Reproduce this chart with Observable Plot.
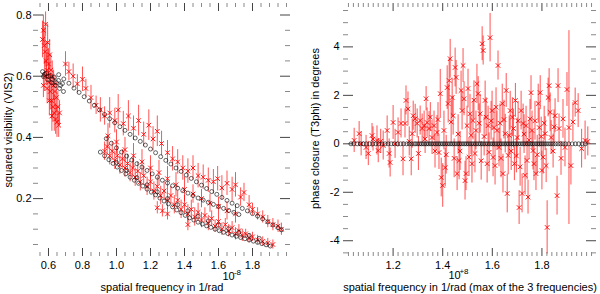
<!DOCTYPE html>
<html><head><meta charset="utf-8">
<script src="https://cdn.jsdelivr.net/npm/d3@7"></script>
<script src="https://cdn.jsdelivr.net/npm/@observablehq/plot@0.6"></script>
<style>
body{margin:0;background:#fff;}
#wrap{display:flex;width:600px;height:294px;}
#wrap svg{display:block;}
</style></head><body><div id="wrap"></div>
<script>
// ---------- LEFT PANEL: squared visibility ----------
const visFreq = [
  0.565,0.570,0.575,0.580,0.583,0.587,0.590,0.595,0.600,0.603,
  0.607,0.610,0.614,0.618,0.622,0.626,0.630,0.634,0.638,0.642,
  0.646,0.650,0.655,0.660,0.665,0.570,0.578,0.592,0.605,0.620,
  0.700,0.720,0.745,0.770,0.800,0.820,0.850,0.880,0.905,0.930,
  0.960,0.990,1.010,1.040,1.070,1.100,1.130,1.160,1.190,1.215,
  1.240,1.265,1.300,1.330,1.360,1.390,1.420,1.450,1.480,1.510,
  1.540,1.570,1.595,1.620,1.650,1.680,1.700,1.730,1.750,1.780,
  1.800,1.830,1.860,1.890,1.920,1.950,1.970,
  0.930,0.945,0.960,0.975,0.990,1.005,1.020,1.035,1.050,1.065,
  1.080,1.095,1.110,1.125,1.140,1.160,1.180,1.200,1.220,1.240,
  1.260,1.280,1.300,1.320,1.340,1.360,1.380,1.400,1.420,1.440,
  1.460,1.480,1.500,1.520,1.540,1.560,1.580,1.600,1.620,1.640,
  1.660,1.680,1.700,1.720,1.740,1.760,1.780,1.800,1.830,1.860,
  1.890,1.920,
  0.950,1.000,1.050,1.100,1.150,1.200,1.250,1.300,1.350,1.400,
  1.450,1.500,1.550,1.600,1.650,1.700,
  1.240,1.270,1.300,1.420
];
const visVal = [
  0.72,0.75,0.70,0.68,0.77,0.65,0.62,0.71,0.64,0.58,
  0.67,0.55,0.62,0.52,0.60,0.50,0.57,0.48,0.55,0.46,
  0.53,0.45,0.50,0.44,0.48,0.57,0.60,0.56,0.52,0.47,
  0.640,0.615,0.600,0.575,0.590,0.560,0.530,0.505,0.490,0.470,
  0.480,0.455,0.490,0.445,0.470,0.430,0.455,0.410,0.440,0.395,
  0.420,0.380,0.350,0.330,0.320,0.300,0.290,0.300,0.275,0.270,
  0.260,0.255,0.265,0.235,0.250,0.230,0.245,0.205,0.220,0.180,
  0.165,0.150,0.140,0.125,0.115,0.110,0.100,
  0.355,0.370,0.340,0.355,0.325,0.340,0.310,0.330,0.300,0.315,
  0.285,0.300,0.270,0.290,0.255,0.275,0.240,0.255,0.225,0.240,
  0.210,0.225,0.195,0.210,0.180,0.195,0.165,0.180,0.150,0.165,
  0.140,0.155,0.130,0.145,0.120,0.135,0.110,0.125,0.100,0.115,
  0.095,0.105,0.085,0.095,0.080,0.085,0.070,0.075,0.065,0.060,
  0.055,0.050,
  0.405,0.385,0.360,0.340,0.320,0.300,0.285,0.265,0.245,0.230,
  0.215,0.200,0.185,0.175,0.160,0.150,
  0.170,0.160,0.150,0.115
];
const visErr = [
  0.06,0.05,0.06,0.05,0.04,0.06,0.05,0.06,0.05,0.06,
  0.05,0.06,0.05,0.06,0.05,0.05,0.05,0.06,0.05,0.05,
  0.05,0.05,0.05,0.04,0.04,0.04,0.05,0.05,0.05,0.05,
  0.04,0.03,0.04,0.03,0.04,0.03,0.04,0.03,0.04,0.03,
  0.05,0.04,0.05,0.04,0.05,0.04,0.05,0.04,0.05,0.04,
  0.05,0.04,0.04,0.04,0.04,0.04,0.04,0.04,0.04,0.04,
  0.04,0.04,0.04,0.04,0.04,0.04,0.04,0.03,0.03,0.03,
  0.02,0.02,0.02,0.02,0.02,0.02,0.02,
  0.03,0.03,0.03,0.03,0.03,0.03,0.03,0.03,0.03,0.03,
  0.03,0.03,0.03,0.03,0.03,0.03,0.03,0.03,0.03,0.03,
  0.03,0.03,0.03,0.03,0.03,0.03,0.03,0.03,0.03,0.03,
  0.03,0.03,0.025,0.025,0.025,0.025,0.02,0.02,0.02,0.02,
  0.02,0.02,0.02,0.02,0.02,0.015,0.015,0.015,0.015,0.015,
  0.015,0.015,
  0.04,0.04,0.04,0.04,0.04,0.04,0.04,0.04,0.04,0.04,
  0.03,0.03,0.03,0.03,0.03,0.03,
  0.02,0.02,0.02,0.02
];
const visModelFreq = [
  0.565,0.588,0.612,0.635,0.659,0.682,0.571,0.594,0.618,0.641,0.665,0.688,0.576,0.600,0.624,0.647,0.671,
  0.660,0.690,0.720,0.750,0.780,0.810,0.840,0.870,0.900,0.930,0.960,0.990,1.020,1.050,1.080,1.110,1.140,
  1.170,1.200,1.230,1.260,1.290,1.320,1.350,1.380,1.410,1.440,1.470,1.500,1.530,1.560,1.590,1.620,1.650,
  1.680,1.710,1.740,1.770,1.800,1.830,1.860,1.890,1.920,1.950,1.970,
  0.940,0.970,1.000,1.030,1.060,1.090,1.120,1.150,1.180,1.210,1.240,1.270,1.300,1.330,1.360,1.390,1.420,
  1.450,1.480,1.510,1.540,1.570,1.600,1.630,1.660,1.690,1.720,
  0.905,0.930,0.955,0.980,1.005,1.030,1.055,1.080,1.105,1.130,1.155,1.180,1.205,1.230,1.255,1.280,1.305,
  1.330,1.355,1.380,1.405,1.430,1.455,1.480,1.505,1.530,1.555,1.580,1.605,1.630,1.655,1.680,1.705,1.730,
  1.755,1.780,1.805,1.830,1.855,1.880,1.905,
  1.000,1.060,1.120,1.180,1.240,1.300,1.360,1.420,1.480,1.540,1.600,1.660,1.720,1.780,1.840
];
const visModelVal = [
  0.615,0.609,0.602,0.596,0.586,0.576,0.599,0.589,0.579,0.570,0.560,0.550,0.606,0.599,0.589,0.579,0.570,
  0.605,0.591,0.577,0.561,0.547,0.533,0.519,0.505,0.490,0.475,0.461,0.448,0.435,0.423,0.410,0.398,0.387,
  0.375,0.362,0.350,0.337,0.325,0.313,0.300,0.289,0.277,0.266,0.255,0.244,0.233,0.223,0.214,0.204,0.194,
  0.185,0.177,0.168,0.160,0.151,0.143,0.134,0.124,0.114,0.105,0.098,
  0.396,0.381,0.366,0.352,0.339,0.326,0.314,0.303,0.292,0.281,0.270,0.260,0.251,0.242,0.234,0.226,0.218,
  0.210,0.202,0.195,0.188,0.181,0.174,0.168,0.161,0.155,0.148,
  0.352,0.340,0.327,0.315,0.303,0.292,0.281,0.270,0.260,0.250,0.241,0.231,0.221,0.212,0.202,0.192,0.183,
  0.173,0.163,0.154,0.145,0.137,0.130,0.123,0.117,0.111,0.106,0.100,0.095,0.090,0.086,0.081,0.077,0.073,
  0.069,0.065,0.061,0.057,0.053,0.049,0.045,
  0.318,0.292,0.268,0.245,0.222,0.200,0.180,0.160,0.142,0.127,0.113,0.101,0.090,0.080,0.070
];
const visXLabels = [0.6,0.8,1.0,1.2,1.4,1.6,1.8];
const visXMinor = [0.55,0.65,0.7,0.75,0.85,0.9,0.95,1.05,1.1,1.15,1.25,1.3,1.35,1.45,1.5,1.55,1.65,1.7,1.75,1.85,1.9,1.95,2.0];
const visYLabels = [0.2,0.4,0.6,0.8];
const visYMinor = [0.05,0.1,0.15,0.25,0.3,0.35,0.45,0.5,0.55,0.65,0.7,0.75];

// ---------- RIGHT PANEL: closure phase ----------
const t3Freq = [
  1.043,1.063,1.071,1.091,1.115,1.119,1.135,1.140,1.160,1.176,
  1.184,1.188,1.200,1.208,1.220,1.232,1.240,1.248,1.252,1.260,
  1.273,1.277,1.281,1.289,1.297,1.309,1.317,1.325,1.333,1.337,
  1.345,1.357,1.365,1.377,1.385,1.390,1.394,1.400,1.410,1.418,
  1.422,1.426,1.430,1.438,1.442,1.450,1.454,1.458,1.466,1.474,
  1.478,1.482,1.486,1.490,1.494,1.498,1.502,1.510,1.518,1.522,
  1.534,1.538,1.543,1.551,1.559,1.563,1.571,1.579,1.583,1.591,
  1.599,1.603,1.607,1.615,1.619,1.623,1.627,1.640,1.643,1.652,
  1.656,1.660,1.664,1.672,1.685,1.689,1.693,1.700,1.708,1.716,
  1.720,1.724,1.740,1.744,1.752,1.756,1.764,1.768,1.776,1.785,
  1.789,1.793,1.800,1.813,1.821,1.825,1.829,1.837,1.853,1.861,
  1.865,1.869,1.885,1.893,1.901,1.909,1.934,1.946,1.974,
  1.405,1.414,1.434,1.446,1.462,1.470,1.506,1.514,1.526,1.530,
  1.547,1.555,1.567,1.575,1.587,1.595,1.611,1.631,1.635,1.647,
  1.668,1.676,1.681,1.697,1.704,1.712,1.728,1.732,1.736,1.748,
  1.760,1.772,1.781,1.797,1.805,1.809,1.817,1.833,1.845,1.849,
  1.877,1.917,1.925,1.960,1.985,1.100,1.150,1.265,1.302,1.329,
  1.350,1.369,1.381
];
const t3Val = [
  0.14,0.42,0.00,-0.15,0.34,0.20,0.14,-0.28,-0.07,0.55,
  -0.40,-0.77,0.88,0.00,0.47,0.84,-0.62,0.84,1.79,1.44,
  -0.62,0.42,1.16,1.03,0.84,0.96,0.63,0.75,1.86,0.88,
  0.63,0.26,0.75,0.47,-0.36,2.07,-1.39,-1.72,-0.98,2.32,
  1.66,2.61,3.51,1.91,1.16,3.15,2.74,-1.23,-0.69,2.20,
  1.37,3.23,1.86,-1.52,-1.23,0.75,2.28,1.24,-0.82,0.96,
  0.55,2.48,2.07,1.24,4.13,3.85,1.79,-0.82,0.75,4.38,
  1.37,-0.56,0.67,1.51,0.55,3.23,-0.15,1.66,-1.23,0.42,
  2.20,-2.05,-0.48,1.37,0.63,-0.82,1.79,0.26,-2.63,1.37,
  -2.05,0.84,-0.69,-2.20,1.03,2.11,-0.28,-0.82,-1.23,1.66,
  0.67,2.11,-1.10,0.42,-3.45,1.91,2.40,0.26,1.16,-2.14,
  2.40,0.63,1.03,-0.15,2.24,0.67,1.70,1.37,0.14,
  0.55,-0.45,0.90,-0.60,0.40,-0.30,-0.55,0.35,1.80,-0.40,
  0.85,-0.70,0.30,1.10,-0.35,0.95,-0.90,0.85,-0.60,1.00,
  0.35,-0.30,1.10,-0.50,0.95,-0.95,0.40,-1.30,0.75,0.15,
  0.55,0.95,-0.45,0.30,-0.55,0.85,-0.90,1.30,-0.30,0.70,
  -0.60,-0.90,0.90,-0.20,0.10,-0.40,0.10,0.10,-0.40,0.20,
  1.10,-0.30,1.00
];
const t3Err = [
  0.5,0.5,0.5,0.5,0.5,0.5,0.6,0.5,0.6,0.6,
  0.6,0.6,0.7,0.6,0.6,0.6,0.7,0.6,0.6,0.7,
  0.7,0.6,0.6,0.6,0.6,0.6,0.6,0.6,0.5,0.6,
  0.7,0.7,0.6,0.7,0.7,1.0,0.8,0.9,0.8,0.9,
  0.8,0.9,0.8,0.8,0.8,0.8,0.7,0.7,0.8,0.8,
  0.8,0.7,0.7,0.8,0.7,0.8,0.8,0.8,0.8,0.8,
  0.8,0.8,0.7,0.8,0.7,0.6,0.8,0.8,0.8,1.0,
  0.8,0.8,0.8,0.8,0.8,0.6,0.8,0.8,0.8,0.8,
  0.7,0.8,0.8,0.8,0.8,0.7,0.7,0.8,0.7,0.8,
  0.8,0.8,0.8,0.7,0.8,0.7,0.8,0.7,0.7,0.8,
  0.8,0.7,0.8,0.7,1.1,0.8,0.7,0.7,0.7,0.8,
  0.7,0.6,0.8,0.8,0.7,4.0,0.6,0.7,0.8,
  0.8,0.8,0.9,0.8,0.8,0.8,0.8,0.8,0.8,0.8,
  0.8,0.8,0.8,0.8,0.8,0.8,0.8,0.8,0.8,0.8,
  0.8,0.8,0.8,0.7,0.8,0.8,0.8,0.8,0.8,0.8,
  0.8,0.8,0.8,0.8,0.7,0.7,0.7,0.8,0.7,0.7,
  0.7,0.8,0.8,0.8,0.6,0.5,0.5,0.6,0.7,0.6,
  0.6,0.7,0.7
];
const t3ModelFreq = [
  1.030,1.042,1.055,1.068,1.080,1.092,1.105,1.118,1.130,1.142,1.155,1.168,1.180,1.192,1.205,1.218,
  1.230,1.242,1.255,1.265,1.275,1.285,1.292,1.300,1.307,1.314,1.321,1.328,1.335,1.342,1.349,1.356,
  1.363,1.370,1.377,1.384,1.391,1.398,1.405,1.412,1.419,1.426,1.433,1.440,1.447,1.454,1.461,1.468,
  1.475,1.482,1.489,1.496,1.503,1.510,1.517,1.524,1.531,1.538,1.545,1.552,1.559,1.566,1.573,1.580,
  1.587,1.594,1.601,1.608,1.615,1.622,1.629,1.636,1.643,1.650,1.657,1.664,1.671,1.678,1.685,1.692,
  1.699,1.706,1.713,1.720,1.727,1.734,1.741,1.748,1.755,1.762,1.769,1.776,1.783,1.790,1.797,1.804,
  1.812,1.820,1.828,1.836,1.845,1.855,1.865,1.875,1.885,1.895,1.908,1.922,1.935,1.948,1.962,1.975
];
const t3ModelVal = 0; // model closure phase is zero at every frequency
const t3XLabels = [1.2,1.4,1.6,1.8];
const t3XMinor = [1.02,1.04,1.06,1.08,1.1,1.12,1.14,1.16,1.18,1.22,1.24,1.26,1.28,1.3,1.32,1.34,1.36,1.38,
  1.42,1.44,1.46,1.48,1.5,1.52,1.54,1.56,1.58,1.62,1.64,1.66,1.68,1.7,1.72,1.74,1.76,1.78,
  1.82,1.84,1.86,1.88,1.9,1.92,1.94,1.96,1.98,2.0];
const t3YLabels = [-4,-2,0,2,4];
const t3YMinor = [-4.5,-3.5,-3,-2.5,-1.5,-1,-0.5,0.5,1,1.5,2.5,3,3.5,4.5,5,5.5];

// ---------- drawing ----------
const FONT = "'Liberation Sans', Arial, Helvetica, sans-serif";
const style = {fontFamily: FONT, fontSize: "11px", background: "white", color: "black", overflow: "visible"};
const minorC = "#8a8a8a", majorC = "#444";
const T = {text: d => d, fill: "black", textAnchor: "middle", lineAnchor: "middle"};

function ticks(fw, fh, xMinor, xMajor, yMinor, yMajor) {
  return [
    Plot.tickX(xMinor, {x: d => d, insetTop: fh - 4, stroke: minorC}),
    Plot.tickX(xMinor, {x: d => d, insetBottom: fh - 4, stroke: minorC}),
    Plot.tickX(xMajor, {x: d => d, insetTop: fh - 8, stroke: majorC}),
    Plot.tickX(xMajor, {x: d => d, insetBottom: fh - 8, stroke: majorC}),
    Plot.tickY(yMinor, {y: d => d, insetRight: fw - 5, stroke: minorC}),
    Plot.tickY(yMinor, {y: d => d, insetLeft: fw - 5, stroke: minorC}),
    Plot.tickY(yMajor, {y: d => d, insetRight: fw - 10, stroke: majorC}),
    Plot.tickY(yMajor, {y: d => d, insetLeft: fw - 10, stroke: majorC})
  ];
}

// Left
{
  const W = 300, H = 294, ml = 33, mr = 10, mt = 3, mb = 38;
  const fw = W - ml - mr, fh = H - mt - mb;
  const idx = d3.range(visFreq.length);
  const midx = d3.range(visModelFreq.length);
  const p = Plot.plot({
    width: W, height: H, marginLeft: ml, marginRight: mr, marginTop: mt, marginBottom: mb,
    style,
    x: {domain: [0.5118, 2.0235], label: null},
    y: {domain: [0.0108, 0.8376], label: null},
    marks: [
      ...ticks(fw, fh, visXMinor, visXLabels, visYMinor, visYLabels),
      Plot.axisX({ticks: visXLabels, tickSize: 0, tickPadding: 5, tickFormat: d => d.toFixed(1), label: null, fill: "black"}),
      Plot.axisY({ticks: visYLabels, tickSize: 0, tickPadding: 2, tickFormat: d => d.toFixed(1), label: null, fill: "black"}),
      Plot.ruleX(idx, {x: i => visFreq[i], y1: i => visVal[i] - visErr[i], y2: i => visVal[i] + visErr[i], stroke: "red", strokeWidth: 0.8, strokeOpacity: 0.85}),
      Plot.dot(idx, {x: i => visFreq[i], y: i => visVal[i], symbol: "times", r: 2.2, stroke: "red", strokeWidth: 0.9}),
      Plot.dot(midx, {x: i => visModelFreq[i], y: i => visModelVal[i], r: 2, stroke: "black", strokeWidth: 0.6, fill: "none"}),
      Plot.text(["squared visibility (VIS2)"], {...T, frameAnchor: "left", rotate: -90, dx: -25, dy: 0, fontSize: 11}),
      Plot.text(["spatial frequency in 1/rad"], {...T, frameAnchor: "bottom", dy: 31, fontSize: 11}),
      Plot.text(["10"], {...T, frameAnchor: "bottom", dx: 66.5, dy: 20, fontSize: 11}),
      Plot.text(["-8"], {...T, frameAnchor: "bottom", dx: 75.5, dy: 16, fontSize: 8})
    ]
  });
  document.getElementById("wrap").appendChild(p);
}

// Right
{
  const W = 300, H = 294, ml = 43, mr = 4, mt = 3, mb = 38;
  const fw = W - ml - mr, fh = H - mt - mb;
  const idx = d3.range(t3Freq.length);
  const p = Plot.plot({
    width: W, height: H, marginLeft: ml, marginRight: mr, marginTop: mt, marginBottom: mb,
    style,
    x: {domain: [1.0, 2.02], label: null},
    y: {domain: [-4.65, 5.79], label: null},
    marks: [
      ...ticks(fw, fh, t3XMinor, t3XLabels, t3YMinor, t3YLabels),
      Plot.axisX({ticks: t3XLabels, tickSize: 0, tickPadding: 5, tickFormat: d => d.toFixed(1), label: null, fill: "black"}),
      Plot.axisY({ticks: t3YLabels, tickSize: 0, tickPadding: 4, tickFormat: d => String(d), label: null, fill: "black"}),
      Plot.ruleX(idx, {x: i => t3Freq[i], y1: i => t3Val[i] - t3Err[i], y2: i => t3Val[i] + t3Err[i], stroke: "red", strokeWidth: 0.8, strokeOpacity: 0.85}),
      Plot.dot(idx, {x: i => t3Freq[i], y: i => t3Val[i], symbol: "times", r: 2.2, stroke: "red", strokeWidth: 0.9}),
      Plot.dot(t3ModelFreq, {x: d => d, y: t3ModelVal, r: 2, stroke: "black", strokeWidth: 0.6, fill: "none"}),
      Plot.text(["phase closure (T3phi) in degrees"], {...T, frameAnchor: "left", rotate: -90, dx: -28, dy: -1.5, fontSize: 11}),
      Plot.text(["spatial frequency in 1/rad (max of the 3 frequencies)"], {...T, frameAnchor: "bottom", dy: 31, fontSize: 11}),
      Plot.text(["10"], {...T, frameAnchor: "bottom", dx: -15.5, dy: 18.5, fontSize: 11}),
      Plot.text(["+8"], {...T, frameAnchor: "bottom", dx: -6, dy: 15, fontSize: 8})
    ]
  });
  document.getElementById("wrap").appendChild(p);
}
</script></body></html>
